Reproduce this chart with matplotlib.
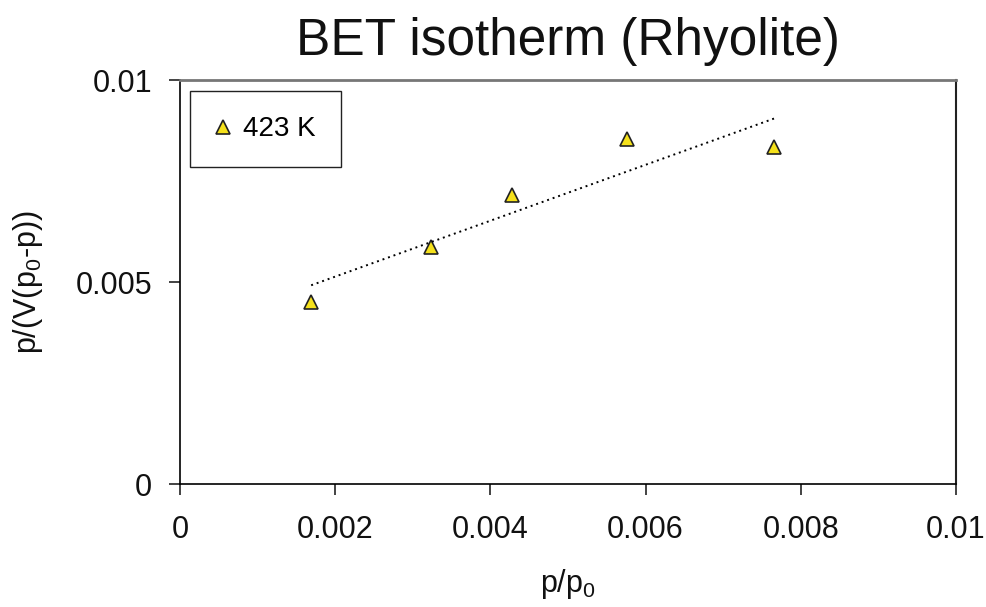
import matplotlib.pyplot as plt
import numpy as np
from matplotlib.ticker import FuncFormatter

plt.rcParams['font.family'] = ['Liberation Sans', 'DejaVu Sans']
plt.rcParams['mathtext.fontset'] = 'custom'
plt.rcParams['mathtext.rm'] = 'Liberation Sans'
plt.rcParams['mathtext.it'] = 'Liberation Sans'

# data
p_rel = np.array([0.00169, 0.00323, 0.00428, 0.00576, 0.00766])
bet_y = np.array([0.00450, 0.00587, 0.00715, 0.00854, 0.00834])
series_label = '423 K'
x_ticks = [0, 0.002, 0.004, 0.006, 0.008, 0.01]
y_ticks = [0, 0.005, 0.01]

fig = plt.figure(figsize=(9.87, 6.07), dpi=100)
ax = fig.add_axes([0.1824, 0.2026, 0.7862, 0.6656])

ax.plot(p_rel, bet_y, linestyle='none', marker='^', markersize=10,
        markerfacecolor='#F5E11B', markeredgecolor='#222222',
        markeredgewidth=1.2, label=series_label)

# linear trendline
k, b = np.polyfit(p_rel, bet_y, 1)
xs = np.array([p_rel.min(), p_rel.max()])
ax.plot(xs, k * xs + b, color='black', linestyle=(0, (1, 2)), linewidth=1.4)

ax.set_xlim(0, 0.01)
ax.set_ylim(0, 0.01)
ax.set_xticks(x_ticks)
ax.set_yticks(y_ticks)
fmt = FuncFormatter(lambda v, pos: '%g' % v)
ax.xaxis.set_major_formatter(fmt)
ax.yaxis.set_major_formatter(fmt)

ax.tick_params(axis='both', direction='out', length=8, width=1.2,
               labelsize=22, color='#222222', labelcolor='#111111')
ax.tick_params(axis='x', pad=14)
ax.tick_params(axis='y', pad=12)

ax.spines['top'].set_color('#777777')
ax.spines['top'].set_linewidth(2)
ax.spines['right'].set_color('#222222')
ax.spines['right'].set_linewidth(1.5)
ax.spines['left'].set_linewidth(1.2)
ax.spines['bottom'].set_linewidth(1.2)

ax.set_xlabel(r'p/p$_0$', fontsize=22, labelpad=16, color='#111111')
ax.set_ylabel(r'p/(V(p$_0$-p))', fontsize=22, labelpad=22, color='#111111')
ax.set_title('BET isotherm (Rhyolite)', fontsize=37, pad=18, color='#111111')

leg = ax.legend(loc='upper left', fontsize=20, fancybox=False,
                edgecolor='#222222', framealpha=1, borderpad=0.9,
                handlelength=0.6, handletextpad=0.4, borderaxespad=0,
                bbox_to_anchor=(0.013, 0.972))
leg.get_frame().set_linewidth(1.0)

fig.savefig('out.png', dpi=100)
